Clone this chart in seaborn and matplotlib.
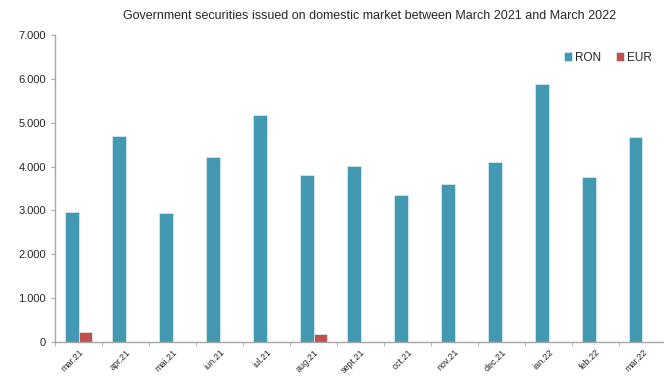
import matplotlib
matplotlib.use("Agg")
import matplotlib.pyplot as plt
import matplotlib.ticker as mticker
import numpy as np
import pandas as pd
import seaborn as sns

months = ["mar.21", "apr.21", "mai.21", "iun.21", "iul.21", "aug.21", "sept.21",
          "oct.21", "nov.21", "dec.21", "ian.22", "feb.22", "mar.22"]
ron = [2960, 4700, 2940, 4220, 5175, 3810, 4010, 3350, 3600, 4100, 5880, 3760, 4670]
eur = [230, 0, 0, 0, 0, 180, 0, 0, 0, 0, 0, 0, 0]
series = ["RON", "EUR"]
colors = ["#4499B2", "#C0504D"]

df = pd.DataFrame({
    "month": months * 2,
    "value": ron + eur,
    "currency": ["RON"] * len(months) + ["EUR"] * len(months),
})

sns.set_style("white")
plt.rcParams["font.family"] = ["Liberation Sans", "DejaVu Sans"]

fig = plt.figure(figsize=(6.64, 3.76), dpi=100)
ax = fig.add_axes([0.083, 0.0904, 0.92, 0.8166])

sns.barplot(data=df, x="month", y="value", hue="currency", hue_order=series,
            palette=colors, width=0.58, ax=ax, edgecolor="#DDEEF2", linewidth=0.5,
            saturation=1)

ax.set_xlim(-0.5, len(months) - 0.5)
ax.set_ylim(0, 7000)
ax.yaxis.set_major_locator(mticker.MultipleLocator(1000))
ax.yaxis.set_major_formatter(mticker.FuncFormatter(lambda v, p: f"{int(v):,}".replace(",", ".")))

ax.set_xlabel("")
ax.set_ylabel("")
for s in ["top", "right"]:
    ax.spines[s].set_visible(False)
for s in ["left", "bottom"]:
    ax.spines[s].set_color("#A6A6A6")
    ax.spines[s].set_linewidth(1.0)

# category separators on the x axis
ax.set_xticks(np.arange(len(months)))
ax.set_xticklabels(months, rotation=45, ha="right", rotation_mode="anchor", fontsize=6.5)
ax.tick_params(axis="x", which="major", length=0, pad=4)
ax.set_xticks(np.arange(-0.5, len(months) - 0.4, 1), minor=True)
ax.tick_params(axis="x", which="minor", length=3, color="#A6A6A6", direction="out", bottom=True)
ax.tick_params(axis="y", length=3, color="#A6A6A6", direction="out", left=True, labelsize=8)

ax.legend(loc="upper right", bbox_to_anchor=(0.995, 0.98), frameon=False, fontsize=8.5,
          handlelength=0.7, handleheight=0.7, handletextpad=0.25, ncol=2, columnspacing=1.3)

fig.text(0.557, 0.958, "Government securities issued on domestic market between March 2021 and March 2022",
         ha="center", va="center", fontsize=9)

fig.savefig("out.png", dpi=100)
